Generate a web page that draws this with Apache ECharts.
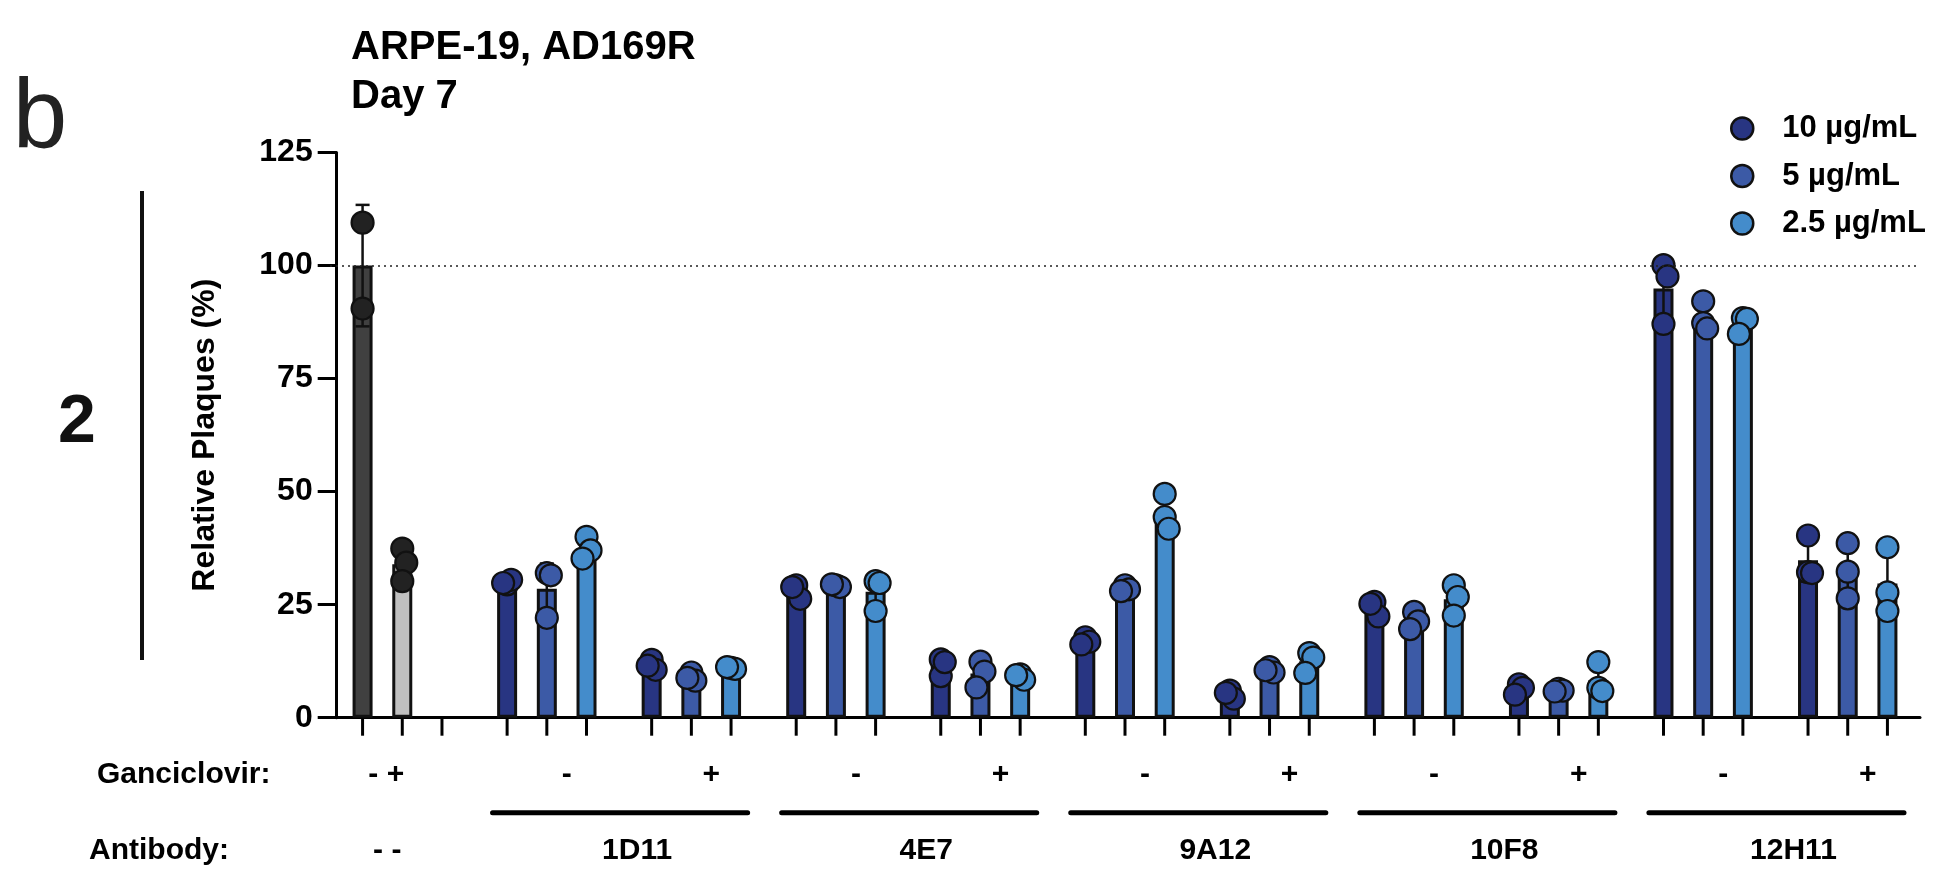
<!DOCTYPE html>
<html><head><meta charset="utf-8">
<script src="https://cdn.jsdelivr.net/npm/echarts@6/dist/echarts.min.js"></script>
<style>html,body{margin:0;padding:0;background:#fff}#c{width:1934px;height:873px}</style>
</head><body><div id="c"></div>
<script>
// ---------- data ----------
const categories = ['Control', '1D11 -', '1D11 +', '4E7 -', '4E7 +', '9A12 -', '9A12 +', '10F8 -', '10F8 +', '12H11 -', '12H11 +'];
const ganciclovirMarks = ['- +', '-', '+', '-', '+', '-', '+', '-', '+', '-', '+'];
const antibodyLabels = ['- -', '1D11', '4E7', '9A12', '10F8', '12H11'];
const antibodySpans = [[0, 0], [1, 2], [3, 4], [5, 6], [7, 8], [9, 10]];
const concentrations = ['10 µg/mL', '5 µg/mL', '2.5 µg/mL'];
const yMin = 0, yMax = 125, yStep = 25;
const referenceLevel = 100;

// control: no antibody, ganciclovir - / +
const ctrlMinus = [109.5, 90.5];
const ctrlPlus = [37.4, 34.3, 30.2];

// replicates per antibody/ganciclovir category (categories 1..10)
const rep10 = [
  [29.5, 30.5, 29.8], [12.8, 10.6, 11.5],
  [29.3, 26.3, 28.9], [12.9, 9.2, 12.3],
  [17.8, 16.8, 16.2], [6.0, 4.2, 5.5],
  [25.6, 22.4, 25.2], [7.4, 6.6, 5.1],
  [100.1, 97.6, 87.1], [40.3, 32.2, 32.0]
];
const rep5 = [
  [32.0, 31.5, 22.1], [10.0, 8.2, 8.8],
  [29.3, 28.9, 29.5], [12.4, 10.2, 6.7],
  [29.3, 28.4, 28.0], [11.2, 10.0, 10.5],
  [23.4, 21.3, 19.6], [6.4, 6.0, 5.8],
  [92.1, 87.3, 86.1], [38.6, 32.3, 26.4]
];
const rep25 = [
  [40.0, 37.0, 35.2], [11.0, 10.8, 11.2],
  [30.2, 29.8, 23.6], [9.6, 8.4, 9.4],
  [49.5, 44.4, 41.8], [14.3, 13.3, 9.9],
  [29.3, 26.7, 22.6], [12.3, 6.6, 5.9],
  [88.4, 88.2, 84.9], [37.7, 27.7, 23.6]
];

// ---------- styles ----------
const FONT = "'Liberation Sans', Arial, Helvetica, sans-serif";
const concColors = ['#283582', '#3c5aa6', '#448ccb'];
const CTRL_DARK = '#404040', CTRL_LIGHT = '#c0c0c0', CTRL_DOT = '#222222';
const BAR_W = 20, BAR_GAP = 0.985;
const SLOT_PX = BAR_W * (1 + BAR_GAP);
const DOT_R = 11, SPREAD_PX = 4, OVERLAP_UNITS = 3.5;

const mean = a => a.reduce((s, v) => s + v, 0) / a.length;
const sd = a => { const m = mean(a); return Math.sqrt(a.reduce((s, v) => s + (v - m) * (v - m), 0) / (a.length - 1)); };

const reps = [rep10, rep5, rep25];
const groups = [];
groups.push({cat: 0, slot: 0, vals: ctrlMinus, fill: CTRL_DARK, dot: CTRL_DOT});
groups.push({cat: 0, slot: 1, vals: ctrlPlus, fill: CTRL_LIGHT, dot: CTRL_DOT});
for (let i = 0; i < 10; i++) for (let k = 0; k < 3; k++)
  groups.push({cat: i + 1, slot: k, vals: reps[k][i], fill: concColors[k], dot: concColors[k]});

const barData = [0, 1, 2].map(k => categories.map((c, ci) => {
  const g = groups.find(g => g.cat === ci && g.slot === k);
  if (!g) return '-';
  return {value: +mean(g.vals).toFixed(3), itemStyle: {color: g.fill}};
}));
const errData = groups.map(g => [g.cat, g.slot, mean(g.vals), sd(g.vals)]);
// dots, with a small side-by-side spread where replicates overlap (scatter dot-plot style)
const dotData = [];
groups.forEach((g, gi) => {
  const placed = [];
  g.vals.forEach(v => {
    const used = placed.filter(p => Math.abs(p.v - v) < OVERLAP_UNITS).map(p => p.o);
    const o = used.length ? [1, -1, 2, -2, 0].find(c => !used.includes(c)) : 0;
    placed.push({v, o});
    dotData.push([g.cat, g.slot, v, gi, o]);
  });
});
const tickData = [];
categories.forEach((c, ci) => [0, 1, 2].forEach(s => tickData.push([ci, s])));

const chart = echarts.init(document.getElementById('c'), null, {renderer: 'canvas'});

const barSeries = [0, 1, 2].map(k => ({
  name: concentrations[k], type: 'bar', data: barData[k],
  barWidth: BAR_W, barGap: (BAR_GAP * 100) + '%',
  itemStyle: {color: concColors[k], borderColor: '#111', borderWidth: 3},
  z: 2, silent: true,
  markLine: k === 0 ? {
    silent: true, symbol: 'none', label: {show: false},
    lineStyle: {type: [2, 4], color: '#222', width: 1.6},
    data: [{yAxis: referenceLevel}]
  } : undefined
}));

function slotX(api, cat, slot) { return api.coord([cat, 0])[0] + (slot - 1) * SLOT_PX; }
const txt = (t, size) => ({text: t, fontSize: size, fontWeight: 'bold', fill: '#000', fontFamily: FONT, align: 'center', verticalAlign: 'middle'});

const option = {
  animation: false,
  backgroundColor: '#fff',
  textStyle: {fontFamily: FONT},
  title: {
    text: 'ARPE-19, AD169R\nDay 7', left: 346, top: 18,
    textStyle: {fontSize: 40, fontWeight: 'bold', color: '#000', lineHeight: 49, fontFamily: FONT}
  },
  legend: {
    orient: 'vertical', left: 1730, top: 113, itemWidth: 22, itemHeight: 22, itemGap: 16.5,
    padding: 0, selectedMode: false,
    textStyle: {fontSize: 31, fontWeight: 'bold', color: '#000', fontFamily: FONT, padding: [0, 0, 0, 24]},
    data: concentrations.map((n, k) => ({name: n, icon: 'circle',
      itemStyle: {color: concColors[k], borderColor: '#111', borderWidth: 2.5}}))
  },
  grid: {left: 330, top: 152.6, width: 1590, height: 565.1},
  xAxis: {
    type: 'category', data: categories,
    axisLine: {lineStyle: {color: '#000', width: 3}},
    axisTick: {show: false}, axisLabel: {show: false}, splitLine: {show: false}
  },
  yAxis: {
    type: 'value', min: yMin, max: yMax, interval: yStep, offset: -6.7,
    name: 'Relative Plaques (%)', nameLocation: 'middle', nameGap: 116,
    nameTextStyle: {fontSize: 32, fontWeight: 'bold', color: '#000', fontFamily: FONT},
    axisLine: {show: true, lineStyle: {color: '#000', width: 3}},
    axisTick: {show: true, length: 19, lineStyle: {color: '#000', width: 3}},
    axisLabel: {fontSize: 32, fontWeight: 'bold', color: '#000', margin: 24, fontFamily: FONT},
    splitLine: {show: false}
  },
  graphic: [
    {type: 'text', x: 40, y: 120, style: {text: 'b', fontSize: 98, fontWeight: 'normal', fill: '#222', fontFamily: FONT, align: 'center', verticalAlign: 'middle'}},
    {type: 'text', x: 77, y: 423, style: {text: '2', fontSize: 68, fontWeight: 'bold', fill: '#111', fontFamily: FONT, align: 'center', verticalAlign: 'middle'}},
    {type: 'line', shape: {x1: 142, y1: 191, x2: 142, y2: 660}, style: {stroke: '#111', lineWidth: 4}},
    {type: 'text', x: 97, y: 775, style: {text: 'Ganciclovir:', fontSize: 30, fontWeight: 'bold', fill: '#000', fontFamily: FONT, verticalAlign: 'middle'}},
    {type: 'text', x: 89, y: 851, style: {text: 'Antibody:', fontSize: 30, fontWeight: 'bold', fill: '#000', fontFamily: FONT, verticalAlign: 'middle'}}
  ],
  series: barSeries.concat([
    {
      name: 'ticks', type: 'custom', data: tickData, silent: true, z: 1, clip: false,
      renderItem: (params, api) => {
        const x = slotX(api, api.value(0), api.value(1));
        const y0 = api.coord([api.value(0), 0])[1];
        return {type: 'line', shape: {x1: x, y1: y0, x2: x, y2: y0 + 18}, style: {stroke: '#000', lineWidth: 3}};
      }
    },
    {
      name: 'error', type: 'custom', data: errData, silent: true, z: 3, clip: false,
      renderItem: (params, api) => {
        const cat = api.value(0), m = api.value(2), s = api.value(3);
        const x = slotX(api, cat, api.value(1));
        const yt = api.coord([cat, m + s])[1], yb = api.coord([cat, m - s])[1];
        const st = {stroke: '#111', lineWidth: 2.5};
        return {type: 'group', children: [
          {type: 'line', shape: {x1: x, y1: yt, x2: x, y2: yb}, style: st},
          {type: 'line', shape: {x1: x - 7, y1: yt, x2: x + 7, y2: yt}, style: st},
          {type: 'line', shape: {x1: x - 7, y1: yb, x2: x + 7, y2: yb}, style: st}
        ]};
      }
    },
    {
      name: 'points', type: 'custom', data: dotData, silent: true, z: 4, clip: false,
      renderItem: (params, api) => {
        const cat = api.value(0);
        const x = slotX(api, cat, api.value(1)) + api.value(4) * SPREAD_PX;
        const y = api.coord([cat, api.value(2)])[1];
        return {type: 'circle', shape: {cx: x, cy: y, r: DOT_R},
          style: {fill: groups[api.value(3)].dot, stroke: '#111', lineWidth: 2.2}};
      }
    },
    {
      name: 'ganciclovir', type: 'custom', data: categories.map((c, i) => [i]), silent: true, clip: false,
      renderItem: (params, api) => {
        const i = params.dataIndex;
        const c = api.coord([i, 0]);
        const dx = i === 0 ? -16 : 20;
        return {type: 'text', x: c[0] + dx, y: c[1] + 57, style: txt(ganciclovirMarks[i], 30)};
      }
    },
    {
      name: 'antibody', type: 'custom', data: antibodySpans.map(s => [s[0], s[1]]), silent: true, clip: false,
      renderItem: (params, api) => {
        const i = params.dataIndex;
        const a = api.coord([api.value(0), 0]), b = api.coord([api.value(1), 0]);
        const band = api.size([1, 0])[0];
        const mid = (a[0] + b[0]) / 2;
        const kids = [];
        if (i === 0) {
          kids.push({type: 'text', x: mid - 15, y: a[1] + 133, style: txt(antibodyLabels[i], 30)});
        } else {
          kids.push({type: 'line', shape: {x1: a[0] - band / 2 + 18, y1: a[1] + 95, x2: b[0] + band / 2 - 16, y2: a[1] + 95},
            style: {stroke: '#000', lineWidth: 5, lineCap: 'round'}});
          kids.push({type: 'text', x: mid + 18, y: a[1] + 133, style: txt(antibodyLabels[i], 30)});
        }
        return {type: 'group', children: kids};
      }
    }
  ])
};
chart.setOption(option);
</script>
</body></html>
